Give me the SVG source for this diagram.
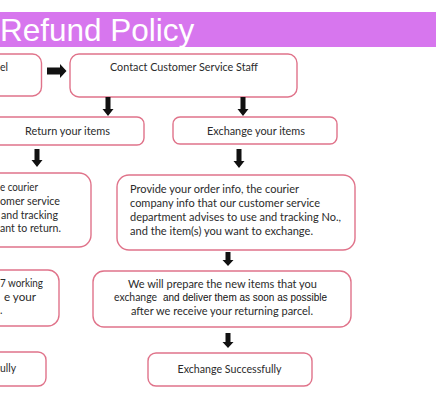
<svg xmlns="http://www.w3.org/2000/svg" width="436" height="400" viewBox="0 0 436 400">
<style>
.box{fill:#fff;stroke:#e0738a;stroke-width:1.4}
.t{font-family:Lato,"Open Sans","Liberation Sans",sans-serif;font-size:10.5px;fill:#2b2b2b}
.ta{font-family:"Liberation Sans",Arial,sans-serif;font-size:10px;fill:#111}
.arr{fill:#111}
</style>
<rect x="0" y="12" width="436" height="35" fill="#d776ee"/>
<text x="0" y="41" font-family="'Liberation Sans',Arial,sans-serif" font-size="31.5" fill="#fff">Refund Policy</text>

<g id="n1"><rect class="box" x="-20" y="54" width="61.5" height="42" rx="9"/><text class="t" x="0" y="70.5">el</text></g>
<g id="n2"><rect class="box" x="70" y="54" width="227" height="43" rx="9"/><text class="t" x="184" y="70.5" text-anchor="middle" textLength="148" lengthAdjust="spacingAndGlyphs">Contact Customer Service Staff</text></g>
<g id="n3"><rect class="box" x="-10" y="117" width="154" height="28" rx="7"/><text class="t" x="67.5" y="134.5" text-anchor="middle" textLength="85" lengthAdjust="spacingAndGlyphs">Return your items</text></g>
<g id="n4"><rect class="box" x="173" y="117" width="164" height="27" rx="7"/><text class="t" x="256" y="134.5" text-anchor="middle" textLength="98" lengthAdjust="spacingAndGlyphs">Exchange your items</text></g>
<g id="n5"><rect class="box" x="-147" y="173" width="238" height="74" rx="12"/>
<text class="t" x="38" y="190.5" text-anchor="end" textLength="38" lengthAdjust="spacingAndGlyphs">e courier</text>
<text class="t" x="60" y="204.5" text-anchor="end" textLength="60" lengthAdjust="spacingAndGlyphs">omer service</text>
<text class="t" x="58" y="218.5" text-anchor="end" textLength="57" lengthAdjust="spacingAndGlyphs">and tracking</text>
<text class="t" x="61" y="232" text-anchor="end" textLength="61" lengthAdjust="spacingAndGlyphs">ant to return.</text></g>
<g id="n6"><rect class="box" x="117" y="175" width="238" height="75" rx="12"/>
<text class="t" x="130" y="192.5" textLength="169" lengthAdjust="spacingAndGlyphs">Provide your order info, the courier</text>
<text class="t" x="130" y="206.5" textLength="190" lengthAdjust="spacingAndGlyphs">company info that our customer service</text>
<text class="t" x="130" y="220.5" textLength="211" lengthAdjust="spacingAndGlyphs">department advises to use and tracking No.,</text>
<text class="t" x="130" y="234.5" textLength="183" lengthAdjust="spacingAndGlyphs">and the item(s) you want to exchange.</text></g>
<g id="n7"><rect class="box" x="-200" y="270" width="259" height="56" rx="11"/>
<text class="t" x="43" y="286.5" text-anchor="end" textLength="43" lengthAdjust="spacingAndGlyphs">7 working</text>
<text class="t" x="36" y="300.5" text-anchor="end" textLength="32" lengthAdjust="spacingAndGlyphs">e your</text>
<text class="t" x="0" y="313.5">.</text></g>
<g id="n8"><rect class="box" x="93" y="271" width="258" height="56" rx="11"/>
<text class="t" x="128" y="288" textLength="189" lengthAdjust="spacingAndGlyphs">We will prepare the new items that you</text>
<text class="t" x="114" y="301" textLength="43" lengthAdjust="spacingAndGlyphs">exchange</text>
<text class="ta" x="163" y="301" textLength="164" lengthAdjust="spacingAndGlyphs">and deliver them as soon as possible</text>
<text class="t" x="131" y="314.5" textLength="182" lengthAdjust="spacingAndGlyphs">after we receive your returning parcel.</text></g>
<g id="n9"><rect class="box" x="-100" y="352" width="146" height="34" rx="8"/><text class="t" x="16" y="372" text-anchor="end" textLength="16" lengthAdjust="spacingAndGlyphs">ully</text></g>
<g id="n10"><rect class="box" x="148" y="353" width="164" height="33" rx="8"/><text class="t" x="229.5" y="372.5" text-anchor="middle" textLength="104" lengthAdjust="spacingAndGlyphs">Exchange Successfully</text></g>

<g id="connectors">
<path class="arr" d="M47,67.5 H60 V64 L66.5,71 L60,78 V74.5 H47 Z"/>
<path class="arr" d="M105.5,97 H110.5 V109 H113.5 L108,116 L102.5,109 H105.5 Z"/>
<path class="arr" d="M240.5,97 H245.5 V109 H248.5 L243,116 L237.5,109 H240.5 Z"/>
<path class="arr" d="M34.5,149 H39.5 V160 H42.5 L37,167 L31.5,160 H34.5 Z"/>
<path class="arr" d="M236.5,149 H241.5 V161 H244.5 L239,168 L233.5,161 H236.5 Z"/>
<path class="arr" d="M225.5,252 H230.5 V260 H233.5 L228,266 L222.5,260 H225.5 Z"/>
<path class="arr" d="M225.5,333 H230.5 V342 H233.5 L228,348 L222.5,342 H225.5 Z"/>
</g>
</svg>
